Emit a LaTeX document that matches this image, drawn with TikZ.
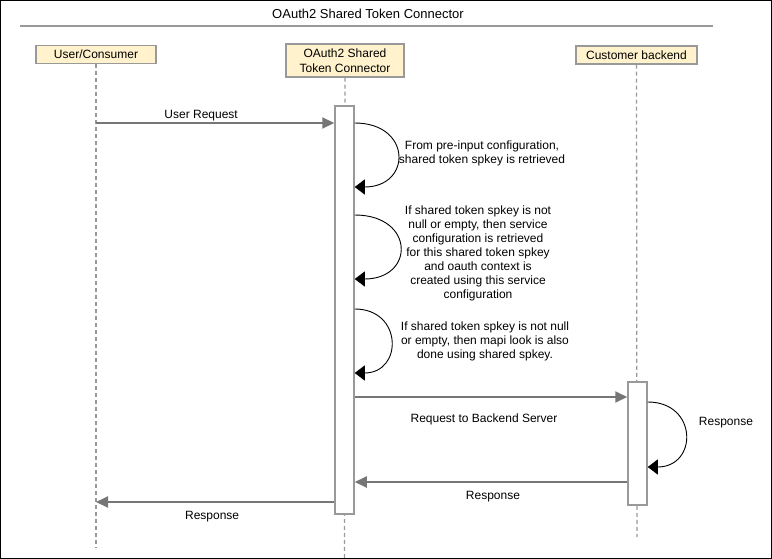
\documentclass[tikz,border=0pt]{standalone}
\usepackage{fontspec}
\setmainfont{Liberation Sans}
\usepackage{tikz}
\usetikzlibrary{arrows.meta}
\definecolor{headfill}{RGB}{255,242,204}
\definecolor{edgegray}{RGB}{153,153,153}
\definecolor{msggray}{RGB}{118,118,118}
\tikzstyle{actor} = [rectangle, text centered, draw=edgegray, line width=1.5pt, fill=headfill, minimum height=18pt, inner sep=1pt, font=\fontsize{12}{15}\selectfont]
\tikzstyle{bar} = [rectangle, draw=edgegray, line width=1.5pt, fill=white, minimum width=19pt, inner sep=0pt]
\tikzstyle{lifeline} = [edgegray, line width=1.3pt, dash pattern=on 4pt off 3pt]
\tikzstyle{msg} = [msggray, line width=2pt, -{Triangle[length=12pt,width=11pt]}]
\tikzstyle{msglabel} = [text=black, font=\fontsize{12}{14}\selectfont]
\tikzstyle{selfmsg} = [black, line width=0.9pt, -{Triangle[length=10pt,width=15pt]}]
\tikzstyle{note} = [align=center, inner sep=0pt, font=\fontsize{12}{14}\selectfont]

\begin{document}
\begin{tikzpicture}[x=1pt, y=-1pt]
  \useasboundingbox (0,0) rectangle (772,559);
  \draw [black, line width=1.2pt] (0.6,0.6) rectangle (771.4,558.4);

  \node (title) [note, font=\fontsize{13}{15}\selectfont] at (368,14) {OAuth2 Shared Token Connector};
  \draw [edgegray, line width=2pt] (20,26) -- (713,26);

  \node (user) [actor, minimum width=120pt] at (96,54.5) {User/Consumer};
  \node (conn) [actor, minimum width=118pt, minimum height=33pt, align=center] at (345,60.5) {OAuth2 Shared\\Token Connector};
  \node (cust) [actor, minimum width=121pt] at (636.5,55) {Customer backend};

  \coordinate (userend) at (96,548);
  \coordinate (connend) at (344.5,559);
  \coordinate (custend) at (637,537);

  \draw [lifeline] (user.south) -- (userend);
  \draw [lifeline] (conn.south) -- (connend);
  \draw [lifeline] (cust.south) -- (custend);

  \node (connbar) [bar, minimum height=408pt] at (344.5,310) {};
  \node (custbar) [bar, minimum height=123pt] at (637.5,443.5) {};

  % messages
  \coordinate (req) at (96,123);
  \draw [msg] (req) -- (req -| connbar.west) node [msglabel, midway, xshift=-14pt, yshift=7pt] {User Request};

  \draw [selfmsg] (connbar.east |- 0,123) .. controls (412,123) and (412,187) .. (connbar.east |- 0,187);
  \node (n1) [note] at (482,153.5) {From pre-input configuration,\\shared token spkey is retrieved};

  \draw [selfmsg] (connbar.east |- 0,215) .. controls (415,215) and (415,279) .. (connbar.east |- 0,279);
  \node (n2) [note] at (478,253) {If shared token spkey is not\\null or empty, then service\\configuration is retrieved\\for this shared token spkey\\and oauth context is\\created using this service\\configuration};

  \draw [selfmsg] (connbar.east |- 0,309) .. controls (403,309) and (403,373) .. (connbar.east |- 0,373);
  \node (n3) [note] at (485,341.5) {If shared token spkey is not null\\or empty, then mapi look is also\\done using shared spkey.};

  \coordinate (back) at (connbar.east |- 0,397);
  \draw [msg] (back) -- (back -| custbar.west) node [msglabel, midway, xshift=-7pt, yshift=-22pt] {Request to Backend Server};

  \draw [selfmsg] (custbar.east |- 0,402) .. controls (698,402) and (698,467) .. (custbar.east |- 0,467);
  \node (n4) [note] at (726,423) {Response};

  \coordinate (resp1) at (custbar.west |- 0,482);
  \draw [msg] (resp1) -- (resp1 -| connbar.east) node [msglabel, midway, xshift=2pt, yshift=-15pt] {Response};

  \coordinate (resp2) at (connbar.west |- 0,502);
  \draw [msg] (resp2) -- (resp2 -| userend) node [msglabel, midway, xshift=-3pt, yshift=-15pt] {Response};
\end{tikzpicture}
\end{document}
